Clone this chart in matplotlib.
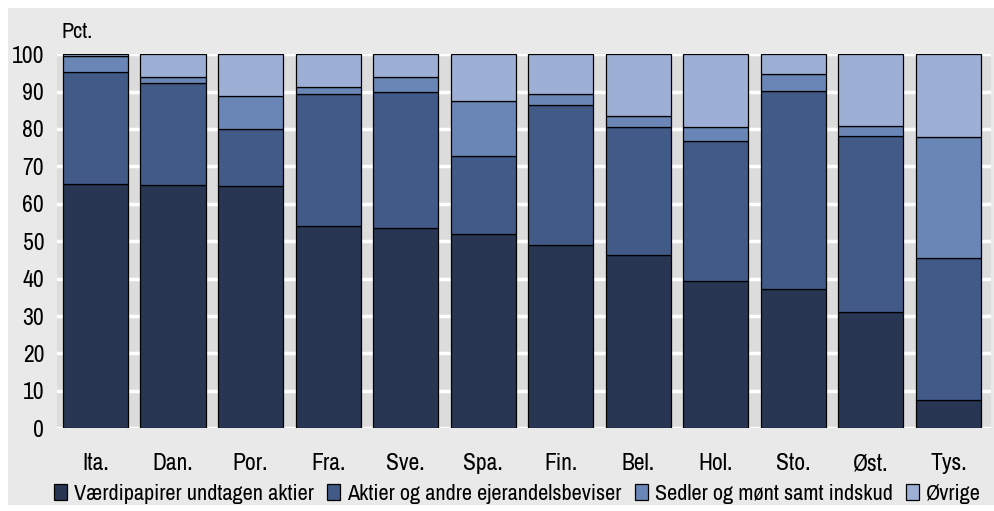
import numpy as np
import matplotlib.pyplot as plt
from matplotlib import font_manager
from matplotlib.patches import Rectangle

# Sammensætning af finansielle aktiver, pct. (kumulative toppe)
lande = ['Ita.', 'Dan.', 'Por.', 'Fra.', 'Sve.', 'Spa.', 'Fin.', 'Bel.', 'Hol.', 'Sto.', 'Øst.', 'Tys.']
vaerdipapirer = [65.2, 65.1, 64.7, 54.0, 53.5, 51.9, 48.9, 46.3, 39.3, 37.2, 31.0, 7.5]
top_aktier = [95.1, 92.2, 80.1, 89.3, 89.8, 72.7, 86.3, 80.6, 76.7, 90.1, 78.1, 45.5]
top_sedler = [99.4, 93.9, 88.9, 91.1, 94.0, 87.6, 89.3, 83.6, 80.5, 94.6, 80.9, 77.8]

aktier = np.array(top_aktier) - np.array(vaerdipapirer)
sedler = np.array(top_sedler) - np.array(top_aktier)
oevrige = 100 - np.array(top_sedler)

serier = ['Værdipapirer undtagen aktier', 'Aktier og andre ejerandelsbeviser',
          'Sedler og mønt samt indskud', 'Øvrige']
farver = ['#283653', '#415a87', '#6a86b6', '#9dafd4']

# find a condensed face if one exists
navne = sorted({f.name for f in font_manager.fontManager.ttflist})
smalle = [n for n in navne if 'Narrow' in n or 'Condensed' in n]
plt.rcParams['font.family'] = smalle[:1] + ['Liberation Sans', 'DejaVu Sans']

fig = plt.figure(figsize=(9.95, 5.11), dpi=100)
fig.patches.append(Rectangle((0.008, 0.012), 0.992, 0.972, transform=fig.transFigure,
                             facecolor='#e9e9e9', edgecolor='none', zorder=-10))
ax = fig.add_axes([0.057, 0.162, 0.939, 0.732])
ax.set_facecolor('#dcdcdc')

x = np.arange(len(lande))
bund = np.zeros(len(lande))
for vals, farve, navn in zip([vaerdipapirer, aktier, sedler, oevrige], farver, serier):
    ax.bar(x, vals, bottom=bund, width=0.84, color=farve, edgecolor='black',
           linewidth=0.9, label=navn, zorder=3)
    bund = bund + np.array(vals)

ax.set_ylim(0, 100)
ax.set_xlim(-0.5, 11.55)
ax.set_yticks(range(0, 101, 10))
ax.yaxis.grid(True, color='white', linewidth=2.5, zorder=1)
ax.set_axisbelow(True)
ax.set_xticks(x)
ax.set_xticklabels(lande)
ax.tick_params(axis='both', length=0, labelsize=17)
ax.tick_params(axis='x', pad=18)
ax.tick_params(axis='y', pad=9)
for s in ax.spines.values():
    s.set_visible(False)

fig.text(0.062, 0.937, 'Pct.', fontsize=16, va='center', ha='left')

fig.legend(loc='center', bbox_to_anchor=(0.52, 0.034), ncol=4, frameon=False,
           fontsize=16, handlelength=0.6, handleheight=0.7, handletextpad=0.3,
           columnspacing=0.6)

fig.savefig('out.png', dpi=100)
